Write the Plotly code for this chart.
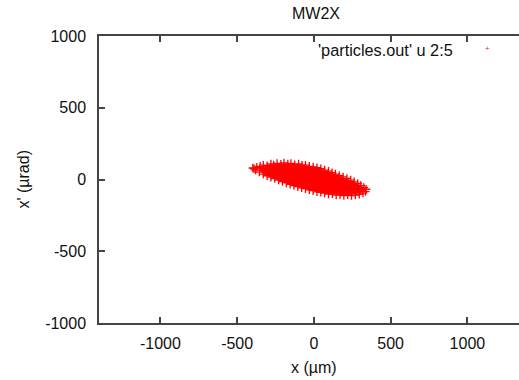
import plotly.graph_objects as go

# Dense core of the particle distribution (outline of solid region), x in um, x' in urad
core_x = [-360, -325, -280, -220, -140, -60, 5, 70, 135, 200, 260, 305, 330,
          325, 295, 235, 170, 105, 40, -55, -120, -185, -250, -310, -345, -360]
core_y = [78, 90, 100, 104, 104, 96, 82, 62, 36, 8, -18, -44, -64,
          -82, -94, -100, -100, -98, -88, -64, -48, -22, 6, 30, 55, 78]

# Individual particles around the edge of the cloud
part_x = [-398, -390, -372, -350, -330, -305, -280, -262, -240, -215, -195, -170,
          -150, -125, -100, -78, -55, -30, -5, 20, 45, 70, 95, 118, 140, 165,
          190, 215, 240, 262, 285, 305, 325, 340,
          335, 320, 295, 270, 245, 220, 195, 170, 145, 120, 95, 70, 45, 20,
          -5, -30, -55, -80, -105, -130, -155, -180, -205, -230, -255, -280,
          -305, -330, -355, -380]
part_y = [80, 75, 85, 92, 100, 96, 108, 102, 112, 106, 115, 108,
          112, 104, 108, 100, 100, 92, 88, 82, 75, 66, 58, 48, 38, 28,
          18, 8, -4, -16, -28, -42, -55, -68,
          -84, -95, -104, -108, -112, -106, -112, -106, -108, -100, -102, -94, -90, -86,
          -78, -72, -64, -58, -50, -42, -34, -24, -14, -4, 6, 16,
          26, 38, 52, 66]

x_ticks = [-1000, -500, 0, 500, 1000]
y_ticks = [-1000, -500, 0, 500, 1000]

title_text = "MW2X"
legend_text = "'particles.out' u 2:5"
x_title = "x (\u00b5m)"
y_title = "x' (\u00b5rad)"

RED = "#ff0000"
FONT = "Liberation Sans, Arial, sans-serif"
LINE = "#444444"

fig = go.Figure()
fig.add_trace(go.Scatter(
    x=core_x, y=core_y, mode="lines", fill="toself",
    fillcolor=RED, line=dict(color=RED, width=1),
    showlegend=False, hoverinfo="skip"))
fig.add_trace(go.Scatter(
    x=part_x, y=part_y, mode="markers",
    marker=dict(symbol="cross-thin", size=6, line=dict(color=RED, width=1.3), color=RED),
    showlegend=False))

fig.update_layout(
    width=519, height=380,
    margin=dict(l=99, r=0, t=36, b=57),
    paper_bgcolor="white", plot_bgcolor="white",
    font=dict(family=FONT, size=16, color="#111111"),
    title=dict(text=title_text, xref="container", x=316/519, xanchor="center",
               yref="container", y=1-13/380, yanchor="middle",
               font=dict(family=FONT, size=16, color="#111111")),
    showlegend=False,
)
fig.update_xaxes(
    range=[-1400, 1336], tickvals=x_ticks, ticktext=[str(v) for v in x_ticks],
    ticks="inside", ticklen=6, tickwidth=1.5, tickcolor=LINE,
    showline=True, linecolor=LINE, linewidth=1.5, mirror="ticks",
    showgrid=False, zeroline=False, ticklabelstandoff=5,
)
fig.update_yaxes(
    range=[-1000, 1000], tickvals=y_ticks, ticktext=[str(v) for v in y_ticks],
    ticks="inside", ticklen=6, tickwidth=1.5, tickcolor=LINE,
    showline=True, linecolor=LINE, linewidth=1.5, mirror=False,
    showgrid=False, zeroline=False, ticklabelstandoff=8,
)

fig.add_annotation(text=x_title, xref="paper", yref="paper",
                   x=(314-99)/420, y=(323-367)/287, xanchor="center", yanchor="middle",
                   showarrow=False, font=dict(size=16))
fig.add_annotation(text=y_title, xref="paper", yref="paper", textangle=-90,
                   x=(23-99)/420, y=0.5, xanchor="center", yanchor="middle",
                   showarrow=False, font=dict(size=16))
fig.add_annotation(text=legend_text, xref="paper", yref="paper",
                   x=(455-99)/420, y=(323-50)/287, xanchor="right", yanchor="middle",
                   showarrow=False, font=dict(size=16.3))
fig.add_annotation(text="+", xref="paper", yref="paper",
                   x=(487-99)/420, y=(323-49)/287, xanchor="center", yanchor="middle",
                   showarrow=False, font=dict(size=8, color="#e03030"))

fig.write_html("out.html")
